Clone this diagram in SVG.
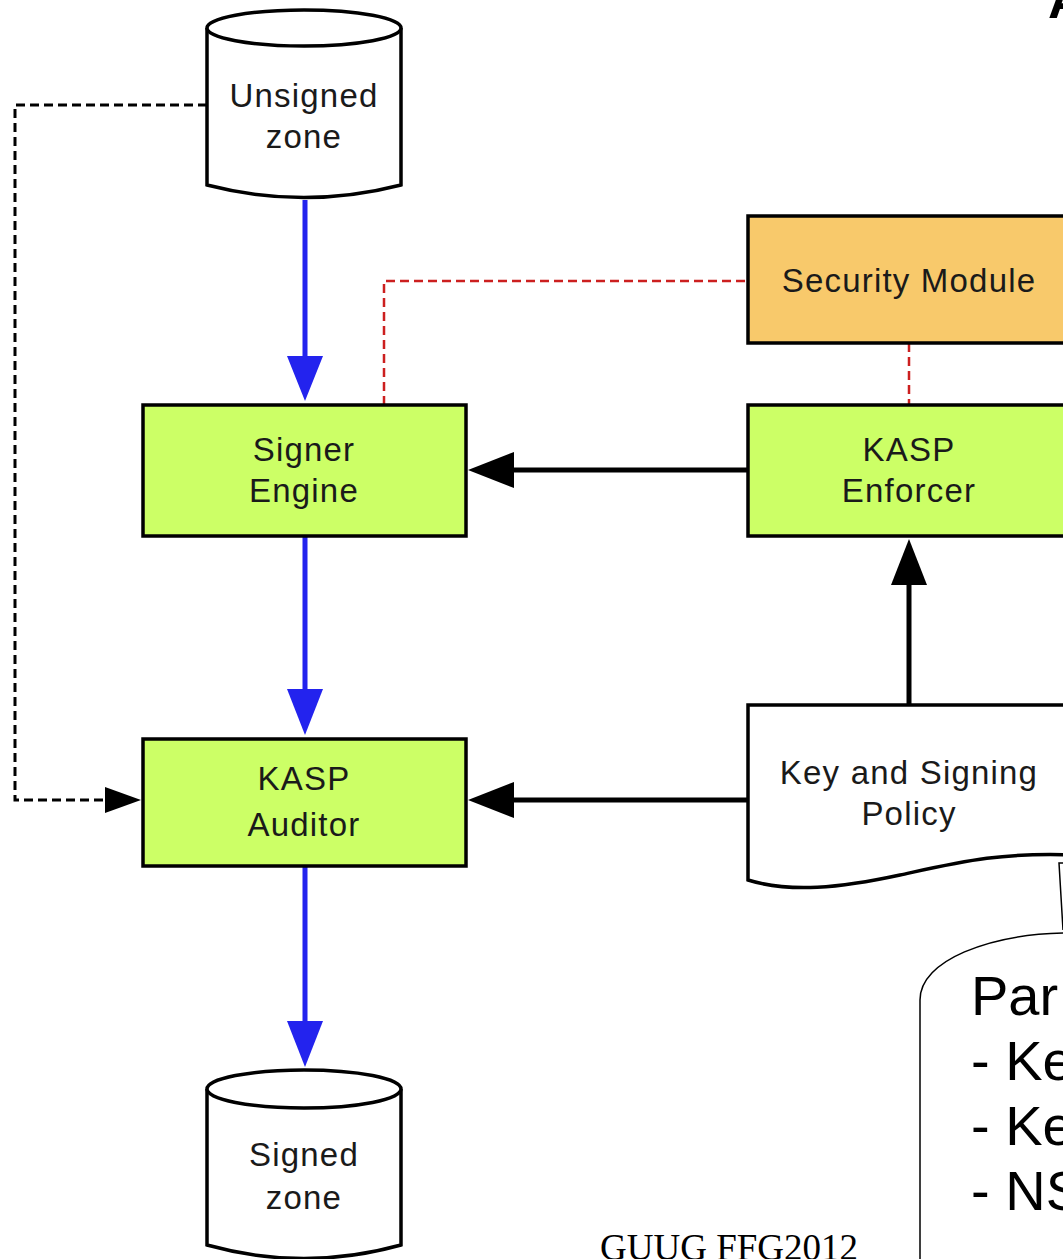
<svg xmlns="http://www.w3.org/2000/svg" width="1063" height="1259" viewBox="0 0 1063 1259">
<defs>
<style>
.lbl{font-family:"Liberation Sans",Arial,sans-serif;font-size:33px;letter-spacing:1.2px;fill:#1a1a1a;text-anchor:middle}
.box{stroke:#000;stroke-width:3.5}
.green{fill:#ccff66}
.cyl{fill:#fff;stroke:#000;stroke-width:3.5}
.blue{stroke:#2323ee;stroke-width:5;fill:none}
.blk{stroke:#000;stroke-width:5;fill:none}
.dash{stroke:#000;stroke-width:3;fill:none;stroke-dasharray:9 5}
.red{stroke:#cc1f1f;stroke-width:2.5;fill:none;stroke-dasharray:9 5}
.call{font-family:"Liberation Sans",Arial,sans-serif;font-size:56px;fill:#000}
</style>
</defs>
<rect width="1063" height="1259" fill="#fff"/>

<g id="connectors">
<path class="dash" d="M207 105 H15 V800 H104"/>
<path d="M105 787 L141 800 L105 813 Z" fill="#000"/>
<path class="red" d="M384 405 V281 H748"/>
<path class="red" d="M909 343 V405"/>
<line class="blue" x1="305" y1="200" x2="305" y2="360"/>
<path d="M287 356 L305 401 L323 356 Z" fill="#2323ee"/>
<line class="blue" x1="305" y1="536" x2="305" y2="692"/>
<path d="M287 689 L305 735 L323 689 Z" fill="#2323ee"/>
<line class="blue" x1="305" y1="866" x2="305" y2="1024"/>
<path d="M287 1021 L305 1067 L323 1021 Z" fill="#2323ee"/>
<line class="blk" x1="748" y1="470" x2="510" y2="470"/>
<path d="M514 452 L468 470 L514 488 Z" fill="#000"/>
<line class="blk" x1="748" y1="800" x2="510" y2="800"/>
<path d="M514 782 L468 800 L514 818 Z" fill="#000"/>
<line class="blk" x1="909" y1="705" x2="909" y2="580"/>
<path d="M891 585 L909 539 L927 585 Z" fill="#000"/>
<path d="M1063 930 L1059 863 L1063 863" fill="none" stroke="#000" stroke-width="1.5"/>
</g>

<g id="unsigned-zone">
<path class="cyl" d="M207 28 V185 Q304 210 401 185 V28"/>
<ellipse class="cyl" cx="304" cy="28" rx="97" ry="18"/>
<text class="lbl" x="304" y="107">Unsigned</text>
<text class="lbl" x="304" y="148">zone</text>
</g>

<g id="signer-engine">
<rect class="box green" x="143" y="405" width="323" height="131"/>
<text class="lbl" x="304" y="461">Signer</text>
<text class="lbl" x="304" y="502">Engine</text>
</g>

<g id="kasp-auditor">
<rect class="box green" x="143" y="739" width="323" height="127"/>
<text class="lbl" x="304" y="790">KASP</text>
<text class="lbl" x="304" y="836">Auditor</text>
</g>

<g id="signed-zone">
<path class="cyl" d="M207 1089 V1245 Q304 1272 401 1245 V1089"/>
<ellipse class="cyl" cx="304" cy="1089" rx="97" ry="19"/>
<text class="lbl" x="304" y="1166">Signed</text>
<text class="lbl" x="304" y="1209">zone</text>
</g>

<g id="security-module">
<rect class="box" x="748" y="216" width="323" height="127" fill="#f8c96b"/>
<text class="lbl" x="909" y="292">Security Module</text>
</g>

<g id="kasp-enforcer">
<rect class="box green" x="748" y="405" width="323" height="131"/>
<text class="lbl" x="909" y="461">KASP</text>
<text class="lbl" x="909" y="502">Enforcer</text>
</g>

<g id="policy">
<path d="M748 880 V705 H1075 V855 C1000 852 960 862 900 875 C840 888 790 893 748 880 Z" fill="#fff" stroke="#000" stroke-width="3.5"/>
<text class="lbl" x="909" y="784">Key and Signing</text>
<text class="lbl" x="909" y="825">Policy</text>
</g>

<g id="callout">
<path d="M920 1262 V1000 C920 960 990 934 1066 933" fill="#fff" stroke="#000" stroke-width="1.5"/>
<text class="call" x="971" y="1015">Par</text>
<text class="call" x="971" y="1080">- Ke</text>
<text class="call" x="971" y="1145">- Ke</text>
<text class="call" x="971" y="1210">- NS</text>
</g>

<g id="title">
<text x="1048" y="18" font-family="Liberation Sans, Arial, sans-serif" font-size="52" font-weight="bold" fill="#000">A</text>
</g>

<g id="footer">
<text x="600" y="1260" font-family="Liberation Serif, Times New Roman, serif" font-size="37" fill="#000">GUUG FFG2012</text>
</g>
</svg>
